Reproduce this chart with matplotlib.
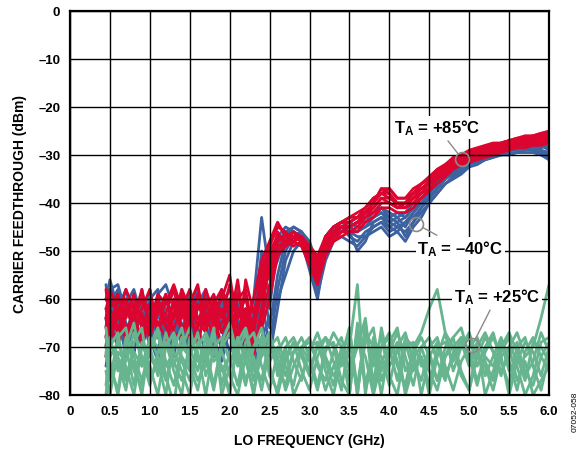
import matplotlib
matplotlib.use('Agg')
import matplotlib.pyplot as plt

plt.rcParams['font.family'] = ['Liberation Sans', 'DejaVu Sans']
plt.rcParams['font.weight'] = 'bold'
plt.rcParams['axes.labelweight'] = 'bold'
plt.rcParams['mathtext.fontset'] = 'custom'
plt.rcParams['mathtext.rm'] = 'Liberation Sans:bold'
plt.rcParams['mathtext.bf'] = 'Liberation Sans:bold'
plt.rcParams['mathtext.it'] = 'Liberation Sans:bold'

# LO frequency grid (GHz)
freq = [0.45, 0.5, 0.6, 0.7, 0.8, 0.9, 1.0, 1.1, 1.2, 1.3,
        1.4, 1.5, 1.6, 1.7, 1.8, 1.9, 2.0, 2.1, 2.2, 2.3,
        2.4, 2.5, 2.6, 2.7, 2.8, 2.9, 3.0, 3.1, 3.2, 3.3,
        3.4, 3.5, 3.6, 3.7, 3.8, 3.9, 4.0, 4.1, 4.2, 4.3,
        4.4, 4.5, 4.6, 4.7, 4.8, 4.9, 5.0, 5.1, 5.2, 5.3,
        5.4, 5.5, 5.6, 5.7, 5.8, 5.9, 6.0]

# TA = -40C traces (dBm)
cold_1 = [-66, -58, -57, -63, -60, -66, -61, -64, -59, -65,
          -60, -67, -62, -59, -64, -60, -66, -62, -67, -60,
          -43, -55, -47, -45, -46, -47, -50, -55, -47, -45,
          -44, -44, -45, -43, -42, -41, -42, -43, -42, -40,
          -39, -38, -36, -34, -33, -32, -31, -30.5, -30, -29.5,
          -29, -29, -28.5, -28, -28, -28.5, -28]
cold_2 = [-60, -56, -62, -58, -65, -59, -63, -68, -61, -58,
          -66, -62, -70, -60, -65, -58, -63, -69, -64, -72,
          -62, -58, -50, -46, -46, -48, -54, -60, -50, -46,
          -45, -46, -50, -48, -44, -43, -45, -44, -47, -44,
          -41, -39, -37, -35, -33.5, -32.5, -31.5, -31, -30.5, -30,
          -29.5, -29, -29, -28.5, -29, -30, -31]
cold_3 = [-68, -62, -65, -60, -68, -63, -70, -62, -66, -72,
          -63, -60, -66, -71, -62, -67, -60, -64, -70, -66,
          -58, -62, -48, -46, -47, -48, -52, -56, -49, -46,
          -46, -45, -46, -44, -43, -42, -44, -43, -45, -42,
          -40, -38, -36, -34.5, -33, -32, -31, -30.5, -30, -29.5,
          -29, -28.5, -28, -28, -27.5, -27.5, -27]
cold_4 = [-72, -64, -59, -67, -62, -70, -64, -60, -68, -63,
          -69, -58, -64, -67, -70, -62, -68, -61, -66, -63,
          -54, -66, -55, -48, -46, -47, -51, -58, -50, -47,
          -45, -47, -48, -46, -45, -44, -45, -46, -44, -43,
          -41, -39, -37, -35, -34, -33, -31.5, -31, -30, -30,
          -29.5, -29, -28.5, -28.5, -28, -29, -30]
cold_5 = [-62, -59, -66, -70, -61, -64, -58, -66, -64, -61,
          -67, -65, -61, -58, -66, -69, -62, -66, -72, -68,
          -60, -70, -58, -50, -47, -46, -49, -53, -48, -45,
          -44, -44, -45, -45, -43, -42, -43, -44, -43, -41,
          -40, -38, -35.5, -34, -32.5, -31.5, -30.5, -30, -29.5, -29,
          -28.5, -28.5, -28, -27.5, -27.5, -28, -28.5]
cold_6 = [-74, -68, -63, -72, -66, -61, -67, -71, -63, -68,
          -62, -70, -65, -63, -60, -66, -71, -67, -62, -70,
          -65, -72, -62, -52, -48, -47, -50, -57, -51, -47,
          -46, -46, -47, -47, -45, -44, -46, -45, -46, -44,
          -42, -40, -38, -36, -34.5, -33.5, -32, -31.5, -31, -30.5,
          -30, -29.5, -29.5, -29, -29, -29.5, -30]
cold_7 = [-57, -63, -70, -61, -58, -64, -69, -59, -57, -62,
          -70, -63, -58, -65, -72, -61, -58, -64, -59, -66,
          -52, -60, -49, -46, -45, -46, -48, -53, -47, -45,
          -44, -45, -44, -44, -42, -41, -43, -42, -43, -41,
          -39, -37, -35.5, -34, -33, -31.5, -31, -30, -29.5, -29,
          -29, -28.5, -28, -28, -27.5, -28, -29]
cold_8 = [-64, -70, -60, -66, -72, -58, -68, -73, -65, -70,
          -58, -64, -68, -74, -63, -71, -65, -58, -68, -74,
          -68, -64, -60, -55, -50, -48, -52, -59, -52, -48,
          -47, -48, -49, -47, -46, -45, -47, -46, -48, -45,
          -43, -40, -38, -36, -35, -34, -32.5, -32, -31, -30.5,
          -30, -30, -29.5, -29.5, -29.5, -30, -30.5]
cold_9 = [-70, -61, -58, -65, -70, -67, -60, -58, -70, -66,
          -65, -72, -60, -62, -68, -73, -66, -70, -63, -65,
          -50, -56, -52, -47, -45, -46, -49, -54, -48, -45,
          -45, -45, -46, -45, -44, -43, -44, -45, -44, -42,
          -40, -39, -37, -35, -33.5, -32.5, -31.5, -30.5, -30, -29.5,
          -29, -29, -28.5, -28, -28.5, -29, -29.5]

# TA = +85C traces (dBm)
hot_1 = [-62, -66, -60, -64, -59, -66, -61, -67, -63, -58,
         -64, -60, -66, -62, -59, -64, -57, -62, -66, -60,
         -52, -48, -44, -47, -47, -48, -50, -53, -48, -46,
         -45, -44, -43, -42, -40, -37, -38, -40, -40, -38,
         -37, -35.5, -34, -33, -31.5, -30.5, -30, -29.5, -29, -28.5,
         -28, -27.5, -27.5, -27, -26.5, -26, -25.5]
hot_2 = [-66, -60, -63, -68, -62, -60, -65, -59, -61, -57,
         -62, -66, -61, -65, -63, -60, -55, -66, -70, -64,
         -56, -50, -47, -48, -46, -47, -51, -56, -50, -47,
         -46, -45, -44, -43, -41, -39, -39, -40, -41, -39,
         -38, -36, -35, -33.5, -32, -31, -30.5, -30, -29.5, -29,
         -28.5, -28, -28, -27.5, -27, -27, -26.5]
hot_3 = [-70, -64, -67, -62, -66, -63, -68, -62, -65, -61,
         -67, -63, -68, -64, -61, -67, -63, -59, -64, -71,
         -62, -53, -46, -49, -47, -48, -50, -52, -48, -46,
         -44, -43, -43, -41, -39, -38, -38, -41, -40, -38,
         -36, -35, -33.5, -32.5, -31, -30, -29.5, -29, -28.5, -28,
         -27.5, -27, -26.5, -26.5, -26, -25.5, -25.2]
hot_4 = [-64, -69, -62, -60, -65, -68, -63, -66, -60, -64,
         -59, -65, -62, -60, -66, -62, -66, -63, -60, -67,
         -58, -55, -48, -47, -48, -49, -52, -54, -49, -47,
         -45, -45, -44, -42, -41, -39, -40, -41, -40, -39,
         -37, -36, -34.5, -33, -32, -31, -30, -29.5, -29, -28.5,
         -28, -28, -27.5, -27, -27, -26.5, -26]
hot_5 = [-60, -62, -66, -63, -61, -64, -67, -60, -64, -66,
         -62, -58, -64, -67, -61, -58, -62, -68, -64, -62,
         -60, -51, -49, -48, -47, -47, -49, -51, -47, -45,
         -44, -44, -43, -42, -40, -37, -37, -39, -39, -38,
         -36, -35, -33, -32, -31, -30, -29.5, -29, -28.5, -28,
         -27.5, -27, -27, -26.5, -26, -26, -25.5]
hot_6 = [-68, -62, -59, -66, -64, -60, -62, -65, -68, -60,
         -66, -64, -59, -63, -68, -65, -60, -64, -62, -72,
         -64, -57, -50, -48, -49, -48, -51, -55, -50, -48,
         -46, -46, -45, -43, -42, -40, -40, -41, -41, -40,
         -38, -37, -35, -34, -32.5, -31.5, -31, -30.5, -30, -29.5,
         -29, -28.5, -28, -28, -27.5, -27.5, -27]
hot_7 = [-58, -65, -70, -60, -67, -62, -58, -68, -70, -63,
         -60, -69, -66, -58, -63, -70, -65, -56, -68, -65,
         -54, -49, -45, -46, -48, -47, -49, -52, -47, -45,
         -44, -43, -42, -41, -39, -38, -37, -39, -39, -37,
         -36, -34.5, -33, -32, -30.5, -30, -29, -28.5, -28, -27.5,
         -27.5, -27, -26.5, -26, -26, -25.5, -25]
hot_8 = [-64, -58, -62, -69, -64, -58, -66, -63, -59, -67,
         -68, -61, -57, -66, -60, -63, -68, -60, -58, -69,
         -66, -60, -51, -49, -48, -49, -53, -57, -51, -48,
         -47, -46, -46, -44, -43, -41, -41, -42, -42, -41,
         -39, -37.5, -36, -34.5, -33, -32, -31.5, -31, -30.5, -30,
         -29.5, -29, -28.5, -28.5, -28, -28, -27.5]
hot_9 = [-72, -67, -64, -58, -62, -70, -64, -61, -66, -64,
         -58, -62, -70, -61, -65, -59, -64, -70, -56, -63,
         -57, -52, -47, -47, -46, -48, -50, -54, -49, -46,
         -45, -45, -44, -42, -40, -38, -39, -40, -40, -39,
         -37, -36, -34, -33, -31.5, -31, -30, -29.5, -29, -28.5,
         -28, -27.5, -27.5, -27, -26.5, -26.5, -26]

# TA = +25C traces (dBm)
room_1 = [-72, -68, -75, -70, -78, -69, -74, -80, -70, -67,
          -73, -77, -69, -72, -79, -70, -67, -74, -70, -77,
          -68, -73, -70, -76, -71, -68, -72, -78, -70, -69,
          -74, -70, -57, -80, -68, -75, -71, -67, -72, -78,
          -70, -68, -73, -77, -71, -69, -74, -70, -76, -72,
          -68, -73, -79, -71, -68, -72, -75]
room_2 = [-78, -70, -67, -76, -71, -74, -68, -72, -77, -70,
          -66, -74, -79, -70, -68, -75, -72, -78, -69, -67,
          -74, -79, -71, -68, -73, -77, -70, -69, -75, -80,
          -72, -66, -80, -65, -79, -70, -68, -74, -78, -70,
          -67, -62, -58, -67, -75, -70, -68, -74, -70, -67,
          -73, -78, -70, -68, -74, -79, -72]
room_3 = [-68, -74, -79, -68, -72, -77, -70, -66, -73, -78,
          -70, -72, -67, -76, -71, -74, -80, -68, -73, -79,
          -71, -67, -76, -72, -69, -75, -79, -72, -68, -70,
          -77, -80, -66, -79, -72, -68, -76, -80, -70, -69,
          -74, -71, -77, -72, -68, -75, -79, -70, -67, -71,
          -76, -70, -67, -72, -70, -64, -57]
room_4 = [-75, -80, -71, -73, -67, -72, -78, -71, -69, -75,
          -80, -68, -72, -74, -67, -78, -71, -70, -77, -72,
          -79, -70, -68, -74, -78, -70, -68, -74, -77, -71,
          -68, -75, -70, -64, -78, -66, -74, -71, -69, -75,
          -72, -78, -70, -69, -73, -68, -71, -77, -72, -74,
          -69, -75, -72, -77, -69, -70, -73]
room_5 = [-80, -72, -69, -74, -80, -70, -72, -75, -67, -73,
          -77, -70, -75, -68, -73, -71, -76, -80, -72, -70,
          -68, -76, -79, -70, -68, -72, -76, -69, -73, -78,
          -70, -72, -78, -67, -70, -80, -69, -66, -75, -72,
          -70, -75, -79, -72, -70, -68, -73, -69, -80, -75,
          -71, -68, -74, -80, -76, -69, -68]
room_6 = [-70, -76, -73, -79, -69, -66, -77, -73, -80, -68,
          -72, -75, -71, -80, -70, -68, -73, -71, -67, -75,
          -72, -69, -74, -78, -71, -70, -69, -73, -79, -74,
          -71, -77, -68, -72, -80, -73, -70, -77, -68, -70,
          -80, -72, -69, -76, -72, -70, -67, -72, -74, -79,
          -72, -70, -77, -73, -80, -77, -74]
room_7 = [-66, -73, -80, -70, -65, -74, -71, -67, -76, -82,
          -70, -66, -73, -70, -78, -69, -65, -72, -78, -70,
          -66, -74, -80, -73, -69, -71, -75, -70, -68, -73,
          -79, -68, -80, -66, -74, -70, -67, -73, -79, -71,
          -68, -72, -77, -70, -68, -66, -72, -78, -71, -68,
          -72, -80, -73, -69, -71, -76, -70]
room_8 = [-82, -69, -72, -77, -73, -80, -68, -70, -74, -71,
          -75, -80, -70, -67, -71, -74, -79, -69, -66, -73,
          -77, -68, -72, -79, -74, -70, -73, -79, -71, -67,
          -70, -80, -65, -78, -70, -72, -78, -70, -67, -73,
          -77, -70, -68, -74, -79, -73, -70, -68, -73, -77,
          -70, -67, -71, -75, -78, -72, -69]
room_9 = [-71, -77, -68, -66, -75, -78, -70, -76, -69, -74,
          -68, -72, -77, -73, -66, -80, -74, -68, -72, -80,
          -70, -67, -75, -70, -80, -76, -71, -67, -72, -76,
          -73, -66, -79, -69, -66, -77, -72, -69, -80, -74,
          -72, -80, -72, -67, -70, -76, -79, -72, -68, -71,
          -75, -72, -69, -76, -73, -67, -71]

cold_traces = [cold_1, cold_2, cold_3, cold_4, cold_5, cold_6, cold_7, cold_8, cold_9]
hot_traces = [hot_1, hot_2, hot_3, hot_4, hot_5, hot_6, hot_7, hot_8, hot_9]
room_traces = [room_1, room_2, room_3, room_4, room_5, room_6, room_7, room_8, room_9]

xticks = [0, 0.5, 1.0, 1.5, 2.0, 2.5, 3.0, 3.5, 4.0, 4.5, 5.0, 5.5, 6.0]
xtick_labels = ['0', '0.5', '1.0', '1.5', '2.0', '2.5', '3.0', '3.5',
                '4.0', '4.5', '5.0', '5.5', '6.0']
yticks = [-80, -70, -60, -50, -40, -30, -20, -10, 0]
ytick_labels = ['\u201380', '\u201370', '\u201360', '\u201350', '\u201340',
                '\u201330', '\u201320', '\u201310', '0']

BLUE = '#3d62a0'
RED = '#dc0530'
GREEN = '#67b58f'

fig = plt.figure(figsize=(5.84, 4.52), dpi=100)
ax = fig.add_axes([0.1199, 0.1239, 0.8202, 0.8496])

style = dict(lw=2.0, solid_joinstyle='round', solid_capstyle='round')
for tr in cold_traces:
    ax.plot(freq, tr, color=BLUE, **style)
for tr in hot_traces:
    ax.plot(freq, tr, color=RED, **style)
for tr in room_traces:
    ax.plot(freq, tr, color=GREEN, **style)

ax.set_xlim(0, 6)
ax.set_ylim(-80, 0)
ax.set_xticks(xticks)
ax.set_xticklabels(xtick_labels)
ax.set_yticks(yticks)
ax.set_yticklabels(ytick_labels)
ax.tick_params(length=0, pad=7, labelsize=9.5)
ax.grid(True, color='black', lw=1.0)
ax.set_axisbelow(False)
for sp in ax.spines.values():
    sp.set_linewidth(1.6)

ax.set_xlabel('LO FREQUENCY (GHz)', fontsize=10, fontweight='bold', labelpad=12)
ax.set_ylabel('CARRIER FEEDTHROUGH (dBm)', fontsize=10, fontweight='bold', labelpad=8)

# annotations: (label, text position, circled point)
notes = [('T$_{\\mathrm{A}}$ = +85\u00b0C', (4.60, -24.2), (4.91, -30.8)),
         ('T$_{\\mathrm{A}}$ = \u201340\u00b0C', (4.89, -49.4), (4.34, -44.4)),
         ('T$_{\\mathrm{A}}$ = +25\u00b0C', (5.35, -59.4), (5.04, -69.6))]
for lab, txy, cxy in notes:
    ax.plot([cxy[0]], [cxy[1]], marker='o', ms=10, mfc='none', mec='#8a8a8a',
            mew=1.2, zorder=4)
    ax.annotate(lab, xy=cxy, xytext=txy, fontsize=12, fontweight='bold',
                ha='center', va='center',
                bbox=dict(boxstyle='square,pad=0.1', fc='white', ec='none'),
                arrowprops=dict(arrowstyle='-', color='#8a8a8a', lw=1.0,
                                shrinkA=2, shrinkB=5),
                zorder=5)

fig.text(0.985, 0.088, '07052-058', rotation=90, fontsize=6,
         fontweight='normal', ha='center', va='center')

fig.savefig('out.png', dpi=100)
